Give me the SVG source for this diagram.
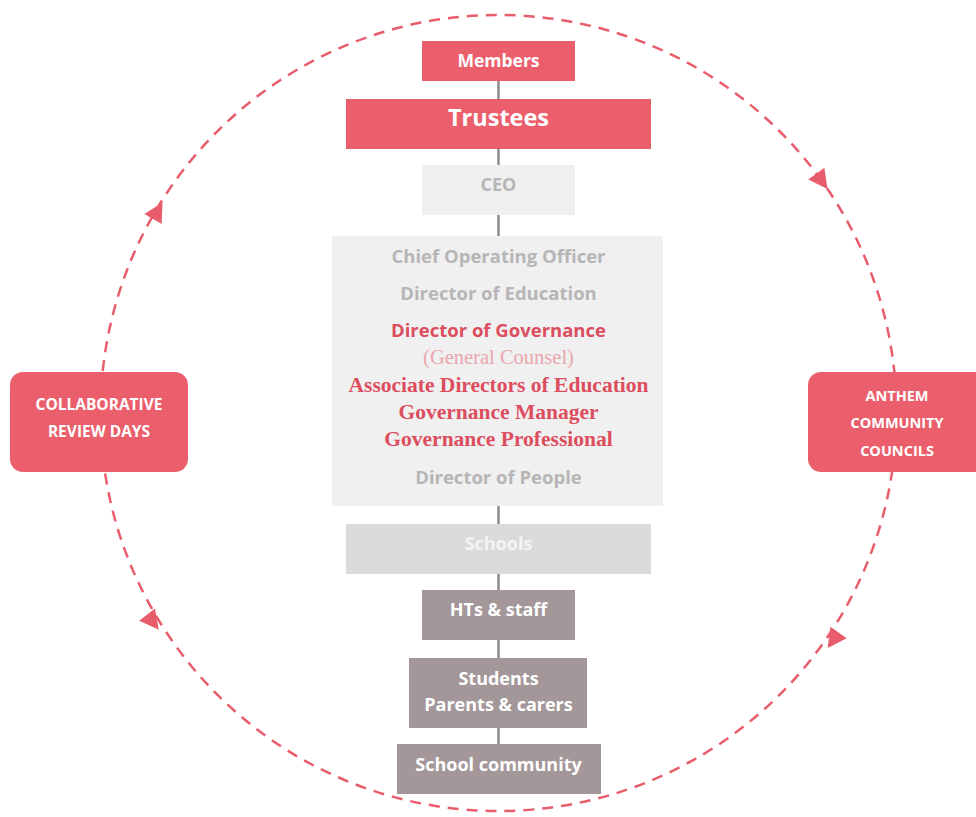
<svg xmlns="http://www.w3.org/2000/svg" width="976" height="817" viewBox="0 0 976 817">
<style>
.red{fill:#eb5f6d}
.ceo{fill:#efefef}
.panel{fill:#f0f0f0}
.sch{fill:#dcdbdb}
.mauve{fill:#a3979a}
.s{font-family:"Open Sans",Lato,"Liberation Sans",sans-serif;font-weight:700;text-anchor:middle}
.w{fill:#ffffff}
.g{fill:#b7b5b5}
.rt{fill:#dc4d5e}
.serif{font-family:"Liberation Serif","DejaVu Serif",serif;text-anchor:middle}
.link{stroke:#8f8a8b;stroke-width:2.5;fill:none}
.loop{stroke:#e85d6b;stroke-width:2.5;fill:none;stroke-dasharray:11 8}
.tri{fill:#e85d6b}
</style>
<defs>
<path id="arrowhead" d="M11,0 L-8,-10 L-8,10 Z"/>
</defs>
<g id="connectors">
<circle class="loop" cx="498.5" cy="413" r="398"/>
<use href="#arrowhead" class="tri" transform="translate(157,212) rotate(-60)"/>
<use href="#arrowhead" class="tri" transform="translate(821,180) rotate(54)"/>
<use href="#arrowhead" class="tri" transform="translate(834,639) rotate(125)"/>
<use href="#arrowhead" class="tri" transform="translate(152,621) rotate(52)"/>
<line class="link" x1="498.5" y1="81" x2="498.5" y2="99"/>
<line class="link" x1="498.5" y1="149" x2="498.5" y2="165"/>
<line class="link" x1="498.5" y1="215" x2="498.5" y2="236"/>
<line class="link" x1="498.5" y1="506" x2="498.5" y2="524"/>
<line class="link" x1="498.5" y1="574" x2="498.5" y2="590"/>
<line class="link" x1="498.5" y1="640" x2="498.5" y2="658"/>
<line class="link" x1="498.5" y1="728" x2="498.5" y2="744"/>
</g>
<g id="members">
<rect class="red" x="422" y="41" width="153" height="40"/>
<text class="s w" x="498.5" y="67" font-size="17.5">Members</text>
</g>
<g id="trustees">
<rect class="red" x="346" y="99" width="305" height="50"/>
<text class="s w" x="498.5" y="126" font-size="23.5">Trustees</text>
</g>
<g id="ceo">
<rect class="ceo" x="422" y="165" width="153" height="50"/>
<text class="s g" x="498.5" y="191" font-size="18">CEO</text>
</g>
<g id="executive">
<rect class="panel" x="332" y="236" width="331" height="270"/>
<text class="s g" x="498.5" y="263" font-size="18.5">Chief Operating Officer</text>
<text class="s g" x="498.5" y="300" font-size="18.5">Director of Education</text>
<text class="s rt" x="498.5" y="337" font-size="18.5">Director of Governance</text>
<text class="serif" x="498.5" y="364" font-size="20.5" fill="#eba6ad">(General Counsel)</text>
<text class="serif rt" x="498.5" y="392" font-size="21.5" font-weight="700">Associate Directors of Education</text>
<text class="serif rt" x="498.5" y="419" font-size="21.5" font-weight="700">Governance Manager</text>
<text class="serif rt" x="498.5" y="446" font-size="21.5" font-weight="700">Governance Professional</text>
<text class="s g" x="498.5" y="484" font-size="18.5">Director of People</text>
</g>
<g id="schools">
<rect class="sch" x="346" y="524" width="305" height="50"/>
<text class="s" x="498.5" y="550" font-size="18" fill="#f5f4f4">Schools</text>
</g>
<g id="hts-staff">
<rect class="mauve" x="422" y="590" width="153" height="50"/>
<text class="s w" x="498.5" y="616" font-size="18">HTs &amp; staff</text>
</g>
<g id="students">
<rect class="mauve" x="409" y="658" width="178" height="70"/>
<text class="s w" x="498.5" y="685" font-size="18">Students</text>
<text class="s w" x="498.5" y="711" font-size="18">Parents &amp; carers</text>
</g>
<g id="school-community">
<rect class="mauve" x="397" y="744" width="204" height="50"/>
<text class="s w" x="498.5" y="771" font-size="18">School community</text>
</g>
<g id="collaborative-review-days">
<rect class="red" x="10" y="372" width="178" height="100" rx="13"/>
<text class="s w" x="99" y="410" font-size="15.5">COLLABORATIVE</text>
<text class="s w" x="99" y="437" font-size="15.5">REVIEW DAYS</text>
</g>
<g id="anthem-community-councils">
<rect class="red" x="808" y="372" width="180" height="100" rx="13"/>
<text class="s w" x="897" y="401" font-size="14.5">ANTHEM</text>
<text class="s w" x="897" y="428" font-size="14.5">COMMUNITY</text>
<text class="s w" x="897" y="456" font-size="14.5">COUNCILS</text>
</g>
</svg>
